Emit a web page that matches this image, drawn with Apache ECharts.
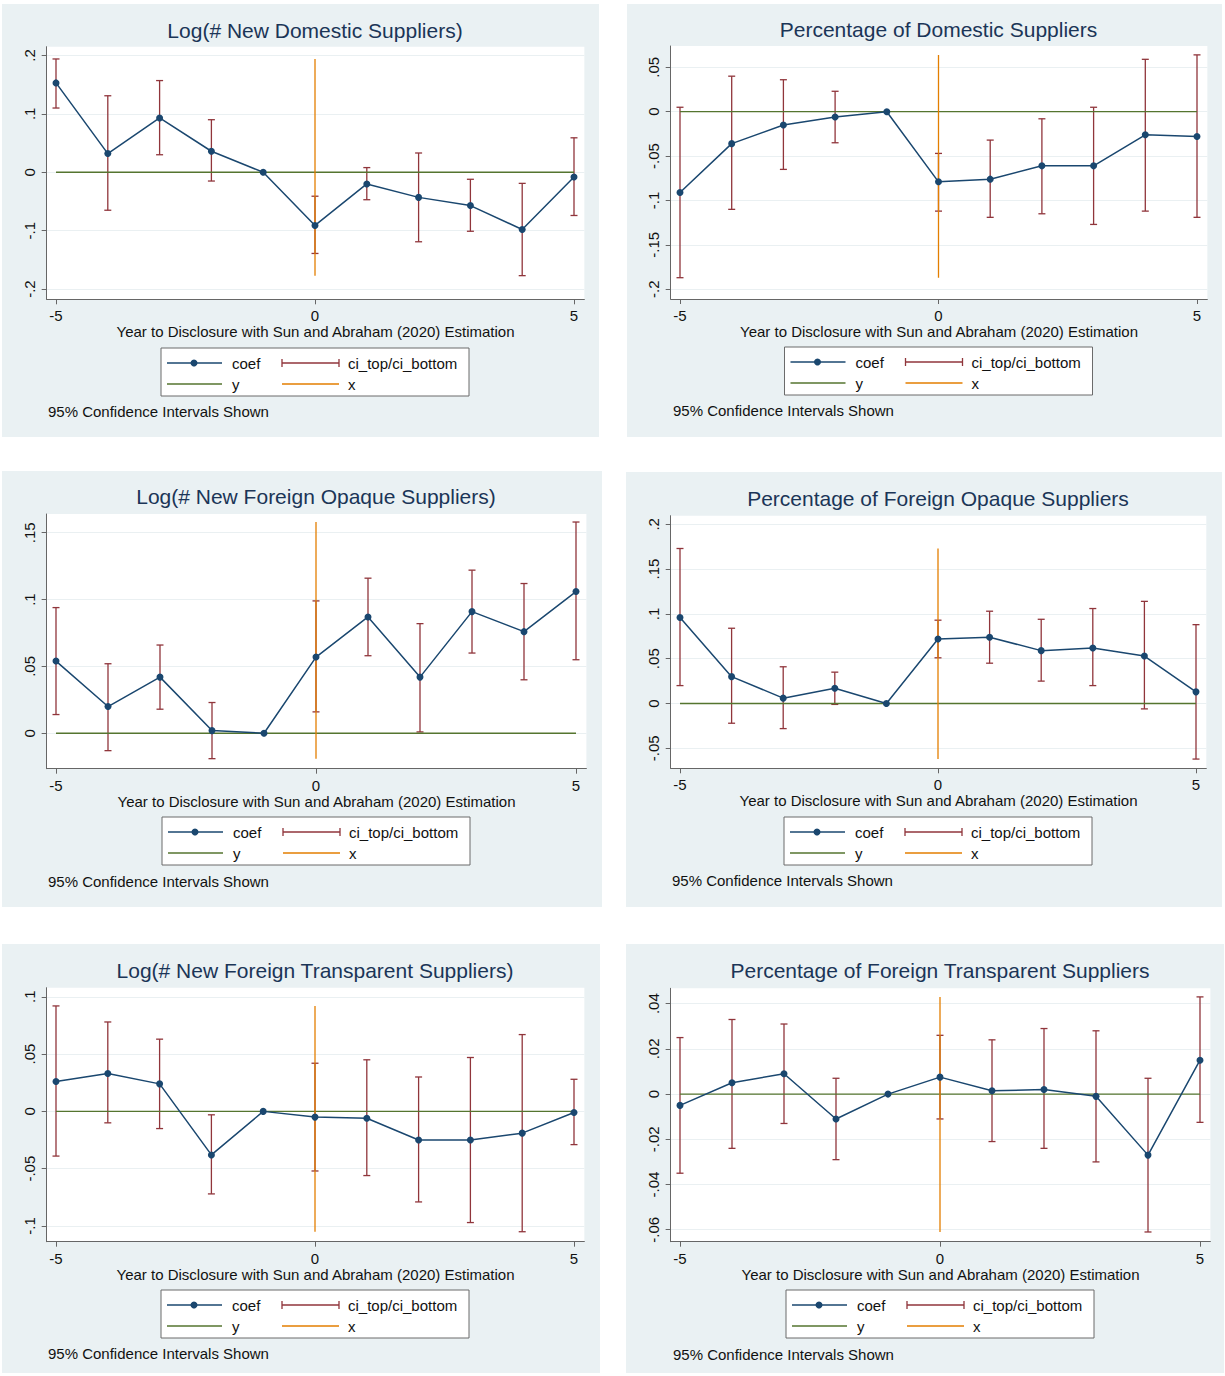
<!DOCTYPE html>
<html>
<head>
<meta charset="utf-8">
<script src="https://cdn.jsdelivr.net/npm/echarts@6/dist/echarts.min.js"></script>
<style>
  html, body { margin: 0; padding: 0; background: #fff; }
  #chart { width: 1225px; height: 1376px; }
</style>
</head>
<body>
<div id="chart"></div>
<script>
var years = [-5, -4, -3, -2, -1, 0, 1, 2, 3, 4, 5]
var xTicks = [-5, 0, 5]
var zeroLine = [0, 0, 0, 0, 0, 0, 0, 0, 0, 0, 0]
var axisTitle = 'Year to Disclosure with Sun and Abraham (2020) Estimation'
var noteText = '95% Confidence Intervals Shown'
var legendNames = ['coef', 'ci_top/ci_bottom', 'y', 'x']

var titles = [
  'Log(# New Domestic Suppliers)',
  'Percentage of Domestic Suppliers',
  'Log(# New Foreign Opaque Suppliers)',
  'Percentage of Foreign Opaque Suppliers',
  'Log(# New Foreign Transparent Suppliers)',
  'Percentage of Foreign Transparent Suppliers'
]

// Log(# New Domestic Suppliers)
var domLogCoef = [0.153, 0.032, 0.093, 0.036, 0, -0.091, -0.020, -0.043, -0.057, -0.098, -0.008]
var domLogTop = [0.194, 0.131, 0.157, 0.090, null, -0.041, 0.008, 0.033, -0.012, -0.019, 0.059]
var domLogBottom = [0.110, -0.065, 0.030, -0.015, null, -0.139, -0.047, -0.119, -0.101, -0.177, -0.074]
var domLogTicks = [-0.2, -0.1, 0, 0.1, 0.2]

// Percentage of Domestic Suppliers
var domPctCoef = [-0.091, -0.036, -0.015, -0.006, 0, -0.079, -0.076, -0.061, -0.061, -0.026, -0.028]
var domPctTop = [0.005, 0.040, 0.036, 0.023, null, -0.047, -0.032, -0.008, 0.005, 0.059, 0.064]
var domPctBottom = [-0.187, -0.110, -0.065, -0.035, null, -0.112, -0.119, -0.115, -0.127, -0.112, -0.119]
var domPctTicks = [-0.2, -0.15, -0.1, -0.05, 0, 0.05]

// Log(# New Foreign Opaque Suppliers)
var opqLogCoef = [0.054, 0.020, 0.042, 0.002, 0, 0.057, 0.087, 0.042, 0.091, 0.076, 0.106]
var opqLogTop = [0.094, 0.052, 0.066, 0.023, null, 0.099, 0.116, 0.082, 0.122, 0.112, 0.158]
var opqLogBottom = [0.014, -0.013, 0.018, -0.019, null, 0.016, 0.058, 0.001, 0.060, 0.040, 0.055]
var opqLogTicks = [0, 0.05, 0.1, 0.15]

// Percentage of Foreign Opaque Suppliers
var opqPctCoef = [0.096, 0.030, 0.006, 0.017, 0, 0.072, 0.074, 0.059, 0.062, 0.053, 0.013]
var opqPctTop = [0.173, 0.084, 0.041, 0.035, null, 0.093, 0.103, 0.094, 0.106, 0.114, 0.088]
var opqPctBottom = [0.020, -0.022, -0.028, -0.001, null, 0.051, 0.045, 0.025, 0.020, -0.006, -0.062]
var opqPctTicks = [-0.05, 0, 0.05, 0.1, 0.15, 0.2]

// Log(# New Foreign Transparent Suppliers)
var trnLogCoef = [0.026, 0.033, 0.024, -0.038, 0, -0.005, -0.006, -0.025, -0.025, -0.019, -0.001]
var trnLogTop = [0.092, 0.078, 0.063, -0.003, null, 0.042, 0.045, 0.030, 0.047, 0.067, 0.028]
var trnLogBottom = [-0.039, -0.010, -0.015, -0.072, null, -0.052, -0.056, -0.079, -0.097, -0.105, -0.029]
var trnLogTicks = [-0.1, -0.05, 0, 0.05, 0.1]

// Percentage of Foreign Transparent Suppliers
var trnPctCoef = [-0.005, 0.005, 0.009, -0.011, 0, 0.0075, 0.0015, 0.002, -0.001, -0.027, 0.015]
var trnPctTop = [0.025, 0.033, 0.031, 0.007, null, 0.026, 0.024, 0.029, 0.028, 0.007, 0.043]
var trnPctBottom = [-0.035, -0.024, -0.013, -0.029, null, -0.011, -0.021, -0.024, -0.030, -0.061, -0.0125]
var trnPctTicks = [-0.06, -0.04, -0.02, 0, 0.02, 0.04]

var panelData = [
  { coef: domLogCoef, top: domLogTop, bottom: domLogBottom, ticks: domLogTicks },
  { coef: domPctCoef, top: domPctTop, bottom: domPctBottom, ticks: domPctTicks },
  { coef: opqLogCoef, top: opqLogTop, bottom: opqLogBottom, ticks: opqLogTicks },
  { coef: opqPctCoef, top: opqPctTop, bottom: opqPctBottom, ticks: opqPctTicks },
  { coef: trnLogCoef, top: trnLogTop, bottom: trnLogBottom, ticks: trnLogTicks },
  { coef: trnPctCoef, top: trnPctTop, bottom: trnPctBottom, ticks: trnPctTicks }
]

// layout (pixels): x of tick -5 / 5, plot top/bottom, y range incl. stata padding
var panels = [
  { bg: [2, 4, 597, 433], x5m: 56, x5: 574, top: 46.7, bottom: 299.3, yMin: -0.2175, yMax: 0.215, titleY: 32, legendTop: 348, noteX: 48, noteY: 411 },
  { bg: [627, 4, 595, 433], x5m: 680, x5: 1197, top: 46, bottom: 299, yMin: -0.211, yMax: 0.074, titleY: 31, legendTop: 347, noteX: 673, noteY: 410 },
  { bg: [2, 471, 600, 436], x5m: 56, x5: 576, top: 514, bottom: 768.7, yMin: -0.0265, yMax: 0.164, titleY: 498, legendTop: 817, noteX: 48, noteY: 881 },
  { bg: [626, 472, 596, 435], x5m: 680, x5: 1196, top: 515.7, bottom: 768.3, yMin: -0.0723, yMax: 0.2096, titleY: 500, legendTop: 817, noteX: 672, noteY: 880 },
  { bg: [2, 944, 598, 429], x5m: 56, x5: 574, top: 987.7, bottom: 1241.7, yMin: -0.1137, yMax: 0.1079, titleY: 972, legendTop: 1290, noteX: 48, noteY: 1353 },
  { bg: [626, 944, 598, 429], x5m: 680, x5: 1200, top: 988.3, bottom: 1241.7, yMin: -0.0653, yMax: 0.0468, titleY: 972, legendTop: 1290, noteX: 673, noteY: 1354 }
]

var FONT = '"Liberation Sans", Arial, sans-serif'
var C_COEF = '#1A476F'
var C_CI = '#90353B'
var C_Y = '#55752F'
var C_X = '#E37E00'
var C_BG = '#EAF1F3'
var X_MIN = -5.18
var X_MAX = 5.2

function stataLabel(v) {
  var s = String(Math.round(v * 1000) / 1000)
  return s.replace(/^(-?)0\./, '$1.')
}

function legendGraphic(cx, top) {
  var w = 308, h = 48
  var lx = cx - w / 2
  var r1 = top + 15, r2 = top + 36
  var txt = function (x, y, t) {
    return { type: 'text', x: x, y: y, z: 100, style: { text: t, fill: '#111', font: '15px ' + FONT, verticalAlign: 'middle' } }
  }
  var seg = function (x1, x2, y, c) {
    return { type: 'line', z: 100, shape: { x1: x1, y1: y, x2: x2, y2: y }, style: { stroke: c, lineWidth: 1.3 } }
  }
  return [
    { type: 'rect', z: 99, shape: { x: lx, y: top, width: w, height: h }, style: { fill: '#fff', stroke: '#6b6b6b', lineWidth: 1 } },
    seg(lx + 6, lx + 61, r1, C_COEF),
    { type: 'circle', z: 101, shape: { cx: lx + 33, cy: r1, r: 3.5 }, style: { fill: C_COEF } },
    txt(lx + 71, r1, legendNames[0]),
    seg(lx + 121, lx + 178, r1, C_CI),
    { type: 'line', z: 100, shape: { x1: lx + 121, y1: r1 - 4, x2: lx + 121, y2: r1 + 4 }, style: { stroke: C_CI, lineWidth: 1.3 } },
    { type: 'line', z: 100, shape: { x1: lx + 178, y1: r1 - 4, x2: lx + 178, y2: r1 + 4 }, style: { stroke: C_CI, lineWidth: 1.3 } },
    txt(lx + 187, r1, legendNames[1]),
    seg(lx + 6, lx + 61, r2, C_Y),
    txt(lx + 71, r2, legendNames[2]),
    seg(lx + 121, lx + 178, r2, C_X),
    txt(lx + 187, r2, legendNames[3])
  ]
}

function ciRender(params, api) {
  var x = api.value(0)
  var hi = api.coord([x, api.value(1)])
  var lo = api.coord([x, api.value(2)])
  var w = 3.5
  var style = { stroke: C_CI, lineWidth: 1.3 }
  return {
    type: 'group',
    children: [
      { type: 'line', shape: { x1: hi[0], y1: hi[1], x2: lo[0], y2: lo[1] }, style: style },
      { type: 'line', shape: { x1: hi[0] - w, y1: hi[1], x2: hi[0] + w, y2: hi[1] }, style: style },
      { type: 'line', shape: { x1: lo[0] - w, y1: lo[1], x2: lo[0] + w, y2: lo[1] }, style: style }
    ]
  }
}

var option = {
  animation: false,
  backgroundColor: '#fff',
  textStyle: { fontFamily: FONT },
  title: [],
  grid: [],
  xAxis: [],
  yAxis: [],
  series: [],
  graphic: []
}

panels.forEach(function (p, i) {
  var d = panelData[i]
  var ppu = (p.x5 - p.x5m) / 10
  var left = p.x5m - (X_MIN + 5) * -ppu
  var right = p.x5 + (X_MAX - 5) * ppu

  option.graphic.push({ type: 'rect', z: -100, shape: { x: p.bg[0], y: p.bg[1], width: p.bg[2], height: p.bg[3] }, style: { fill: C_BG } })
  option.graphic = option.graphic.concat(legendGraphic((p.x5m + p.x5) / 2, p.legendTop))
  option.graphic.push({ type: 'text', z: 100, x: p.noteX, y: p.noteY, style: { text: noteText, fill: '#111', font: '15px ' + FONT, verticalAlign: 'middle' } })

  option.title.push({
    text: titles[i],
    left: (p.x5m + p.x5) / 2,
    top: p.titleY - 12,
    textAlign: 'center',
    padding: 0,
    textStyle: { fontSize: 21, fontWeight: 'normal', color: '#1B3557', fontFamily: FONT }
  })

  option.grid.push({
    left: left, top: p.top, width: right - left, height: p.bottom - p.top,
    show: true, backgroundColor: '#fff', borderWidth: 0
  })

  option.xAxis.push({
    gridIndex: i, type: 'value', min: X_MIN, max: X_MAX,
    name: axisTitle, nameLocation: 'middle', nameGap: 23,
    nameTextStyle: { fontSize: 15, color: '#111', fontFamily: FONT },
    axisLine: { onZero: false, lineStyle: { color: '#666', width: 1 } },
    axisTick: { show: true, customValues: xTicks, length: 5, lineStyle: { color: '#666' } },
    axisLabel: { customValues: xTicks, margin: 9, fontSize: 15, color: '#111', fontFamily: FONT },
    splitLine: { show: false }
  })

  option.yAxis.push({
    gridIndex: i, type: 'value', min: p.yMin, max: p.yMax,
    axisLine: { show: true, onZero: false, lineStyle: { color: '#666', width: 1 } },
    axisTick: { show: true, customValues: d.ticks, length: 5, lineStyle: { color: '#666' } },
    axisLabel: { customValues: d.ticks, rotate: 90, margin: 10, fontSize: 15, color: '#111', fontFamily: FONT, formatter: stataLabel },
    splitLine: { show: true, lineStyle: { color: '#EAF0F2', width: 1 } }
  })

  var ciData = []
  years.forEach(function (yr, k) {
    if (d.top[k] != null) ciData.push([yr, d.top[k], d.bottom[k]])
  })
  var tops = d.top.filter(function (v) { return v != null })
  var bots = d.bottom.filter(function (v) { return v != null })

  option.series.push({
    name: 'ci_top/ci_bottom', type: 'custom', xAxisIndex: i, yAxisIndex: i, z: 2, silent: true,
    renderItem: ciRender, encode: { x: 0, y: [1, 2] }, data: ciData
  })
  option.series.push({
    name: 'y', type: 'line', xAxisIndex: i, yAxisIndex: i, z: 3, silent: true, symbol: 'none',
    lineStyle: { color: C_Y, width: 1.3 },
    data: years.map(function (yr, k) { return [yr, zeroLine[k]] })
  })
  option.series.push({
    name: 'x', type: 'line', xAxisIndex: i, yAxisIndex: i, z: 4, silent: true, symbol: 'none',
    lineStyle: { color: C_X, width: 1.3 },
    data: [[0, Math.max.apply(null, tops)], [0, Math.min.apply(null, bots)]]
  })
  option.series.push({
    name: 'coef', type: 'line', xAxisIndex: i, yAxisIndex: i, z: 5, silent: true,
    symbol: 'circle', symbolSize: 7,
    itemStyle: { color: C_COEF },
    lineStyle: { color: C_COEF, width: 1.5 },
    data: years.map(function (yr, k) { return [yr, d.coef[k]] })
  })
})

var chart = echarts.init(document.getElementById('chart'), null, { renderer: 'svg' })
chart.setOption(option)
</script>
</body>
</html>
